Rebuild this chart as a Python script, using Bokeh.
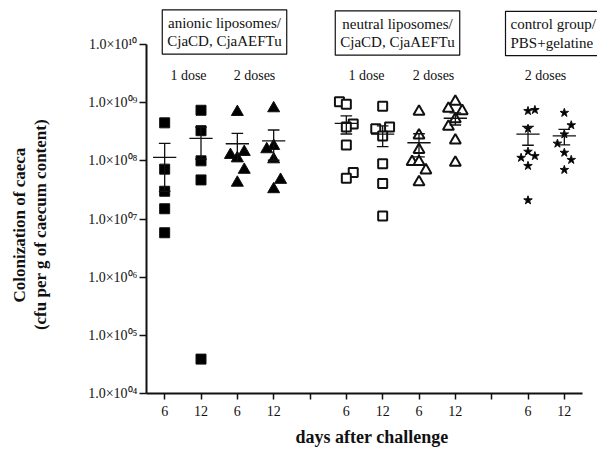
import numpy as np
from bokeh.plotting import figure
from bokeh.models import Label, FixedTicker, Title
from bokeh.embed import file_html
from bokeh.resources import INLINE

# ---------------- data ----------------
tick_positions = [1, 2, 3, 4, 5, 6, 7, 8, 9, 10, 11, 12]
tick_labels = ["6", "12", "6", "12", "", "6", "12", "6", "12", "", "6", "12"]
y_exponents = [4, 5, 6, 7, 8, 9, 10]

# anionic liposomes, 1 dose (day 6, day 12)
anionic_1dose_d6 = [4.5e8, 7.2e7, 3.0e7, 1.5e7, 5.8e6]
anionic_1dose_d12 = [7.4e8, 3.3e8, 1.0e8, 4.7e7, 3.9e4]
# anionic liposomes, 2 doses
anionic_2dose_d6 = [6.9e8, 1.42e8, 1.26e8, 1.11e8, 7.0e7, 4.2e7]
anionic_2dose_d12 = [8.0e8, 1.8e8, 1.58e8, 1.06e8, 4.7e7, 3.25e7]
# neutral liposomes, 1 dose
neutral_1dose_d6 = [1.04e9, 9.4e8, 4.3e8, 3.8e8, 1.87e8, 6.3e7, 5.0e7]
neutral_1dose_d12 = [8.7e8, 3.8e8, 3.57e8, 2.68e8, 8.95e7, 4.06e7, 1.13e7]
# neutral liposomes, 2 doses
neutral_2dose_d6 = [7.0e8, 2.75e8, 1.54e8, 9.6e7, 9.6e7, 6.9e7, 4.3e7]
neutral_2dose_d12 = [1.04e9, 7.9e8, 7.2e8, 5.2e8, 3.87e8, 2.26e8, 9.3e7]
# control group, 2 doses
control_d6 = [7.5e8, 7.2e8, 3.57e8, 1.44e8, 1.21e8, 1.13e8, 8.2e7, 2.1e7]
control_d12 = [6.7e8, 4.1e8, 2.86e8, 1.98e8, 1.38e8, 1.04e8, 7.0e7]

# horizontal scatter offsets (in units of JIT) so overlapping points stay visible
JIT = 0.19
off_a1_d6 = [0, 0, 0, 0, 0]
off_a1_d12 = [0, 0, 0, 0, 0]
off_a2_d6 = [0, 1, -1, 0, 1, 0]
off_a2_d12 = [0, 0, -1, 0, 1, 0]
off_n1_d6 = [-1, 0, 1, 0, 0, 1, 0]
off_n1_d12 = [0, 1, -1, 0, 0, 0, 0]
off_n2_d6 = [0, 0, 0, -1, 0, 1, 0]
off_n2_d12 = [0, -1, 1, 0, -1, 0, 0]
off_c_d6 = [1, 0, 0, 0, 1, -1, 0, 0]
off_c_d12 = [0, 1, 0, -1, 0, 1, 0]

groups = [
    (1, anionic_1dose_d6, off_a1_d6, "square", "black", 10, 1),
    (2, anionic_1dose_d12, off_a1_d12, "square", "black", 10, 1),
    (3, anionic_2dose_d6, off_a2_d6, "triangle", "black", 12, 1),
    (4, anionic_2dose_d12, off_a2_d12, "triangle", "black", 12, 1),
    (6, neutral_1dose_d6, off_n1_d6, "square", "white", 9, 2),
    (7, neutral_1dose_d12, off_n1_d12, "square", "white", 9, 2),
    (8, neutral_2dose_d6, off_n2_d6, "triangle", "white", 11, 2),
    (9, neutral_2dose_d12, off_n2_d12, "triangle", "white", 11, 2),
    (11, control_d6, off_c_d6, "star", "black", 9, 1),
    (12, control_d12, off_c_d12, "star", "black", 9, 1),
]

FONT = "Liberation Serif"
INK = "#111111"

W, H = 597, 452
# plotted data area (axis extent) in canvas pixels
AL, AR, AT, AB = 146, 582, 44, 393
XMIN, XMAX = 0.5, 12.5
LMIN, LMAX = 4.0, 10.0
# the frame reaches the top and right edges so the group boxes are not clipped
px_per_x = (AR - AL) / (XMAX - XMIN)
px_per_dec = (AB - AT) / (LMAX - LMIN)
x_hi = XMAX + (W - AR) / px_per_x
y_hi = 10 ** (LMAX + AT / px_per_dec)

p = figure(width=W, height=H, x_range=(XMIN, x_hi), y_range=(10 ** LMIN, y_hi),
           y_axis_type="log", output_backend="svg", toolbar_location=None,
           min_border_left=AL, min_border_right=0, min_border_top=0,
           min_border_bottom=H - AB)
p.grid.visible = False
p.outline_line_color = None
p.background_fill_color = "white"
p.border_fill_color = "white"

try:
    Label(x=0, y=0, x_units="canvas", y_units="canvas", text="t")
    UNITS = "canvas"
except Exception:
    UNITS = "screen"


def at(ix, iy):
    if UNITS == "canvas":
        return float(ix), float(iy)
    return float(ix), float(H - iy)


def label(ix, iy, text, **kw):
    x, y = at(ix, iy)
    opts = dict(text_font=FONT, text_color=INK, text_baseline="middle",
                text_align="center")
    opts.update(kw)
    p.add_layout(Label(x=x, y=y, x_units=UNITS, y_units=UNITS, text=text, **opts))


SUP = str.maketrans("0123456789", "\u2070\u00b9\u00b2\u00b3\u2074\u2075\u2076\u2077\u2078\u2079")

# axes
xa = p.xaxis[0]
xa.bounds = (XMIN, XMAX)
xa.ticker = FixedTicker(ticks=tick_positions)
xa.major_label_overrides = {t: l for t, l in zip(tick_positions, tick_labels)}
xa.major_label_text_font = FONT
xa.major_label_text_font_size = "14px"
xa.major_label_text_color = INK
xa.major_label_standoff = 6
xa.axis_line_width = 2
xa.axis_line_color = INK
xa.major_tick_line_width = 1.5
xa.major_tick_line_color = INK
xa.major_tick_out = 6
xa.major_tick_in = 0
xa.minor_tick_line_color = None
xa.axis_label = "days after challenge"
xa.axis_label_text_font = FONT
xa.axis_label_text_font_size = "18px"
xa.axis_label_text_font_style = "bold"
xa.axis_label_text_color = INK
xa.axis_label_standoff = 8

ya = p.yaxis[0]
ya.bounds = (10 ** LMIN, 10 ** LMAX)
y_ticks = [10.0 ** e for e in y_exponents]
ya.ticker = FixedTicker(ticks=y_ticks, minor_ticks=[])
ya.major_label_overrides = {t: "1.0\u00d710" + f"{e:02d}".translate(SUP)
                            for t, e in zip(y_ticks, y_exponents)}
ya.major_label_text_font = FONT
ya.major_label_text_font_size = "14px"
ya.major_label_text_color = INK
ya.major_label_standoff = 2
ya.axis_line_width = 2
ya.axis_line_color = INK
ya.major_tick_line_width = 1.5
ya.major_tick_line_color = INK
ya.major_tick_out = 7
ya.major_tick_in = 0
ya.minor_tick_line_color = None
# blank spacer label widens the axis panel so the titles sit further left
ya.axis_label = "\u00a0"
ya.axis_label_text_font_size = "16px"
ya.axis_label_standoff = 16

# y axis title, two lines, as side titles placed from the bottom of the panel
YT_FS = 17
for txt, em in [("(cfu per g of caecum content)", 12.6), ("Colonization of caeca", 9.11)]:
    length = em * YT_FS * 0.93
    start = 230 + length / 2.0          # canvas y where the text begins
    p.add_layout(Title(text=txt, align="left", offset=float(AB - start),
                       standoff=0, text_font=FONT,
                       text_font_size=f"{YT_FS}px", text_font_style="bold",
                       text_color=INK), "left")

# points and mean +/- SEM
for pos, vals, offs, marker, fill, size, lw in groups:
    v = np.array(vals, dtype=float)
    xs = [pos + JIT * o for o in offs]
    p.scatter(xs, list(v), marker=marker, size=size, fill_color=fill,
              line_color=INK, line_width=lw)
    m = float(v.mean())
    sem = float(v.std(ddof=1) / np.sqrt(len(v)))
    lo, hi = m - sem, m + sem
    p.segment(x0=[pos - 0.32, pos, pos - 0.16, pos - 0.16],
              y0=[m, lo, lo, hi],
              x1=[pos + 0.32, pos, pos + 0.16, pos + 0.16],
              y1=[m, hi, lo, hi], line_color=INK, line_width=1.3)

# dose labels
doses = [("1 dose", 188), ("2 doses", 254), ("1 dose", 366), ("2 doses", 433),
         ("2 doses", 545)]
for txt, ix in doses:
    label(ix, 75, txt, text_font_size="14px")

# group boxes
boxes = [
    ("anionic liposomes/\nCjaCD, CjaAEFTu", 224, 31.5, "center"),
    ("neutral liposomes/\nCjaCD, CjaAEFTu", 397, 32.5, "center"),
    ("control group/\nPBS+gelatine", 505, 33, "left"),
]
for txt, ix, iy, al in boxes:
    label(ix, iy, txt, text_align=al, text_font_size="15px",
          text_line_height=1.15,
          border_line_color=INK, border_line_width=1.2,
          background_fill_color="white", padding=5)

open("out.html", "w").write(file_html(p, INLINE))
